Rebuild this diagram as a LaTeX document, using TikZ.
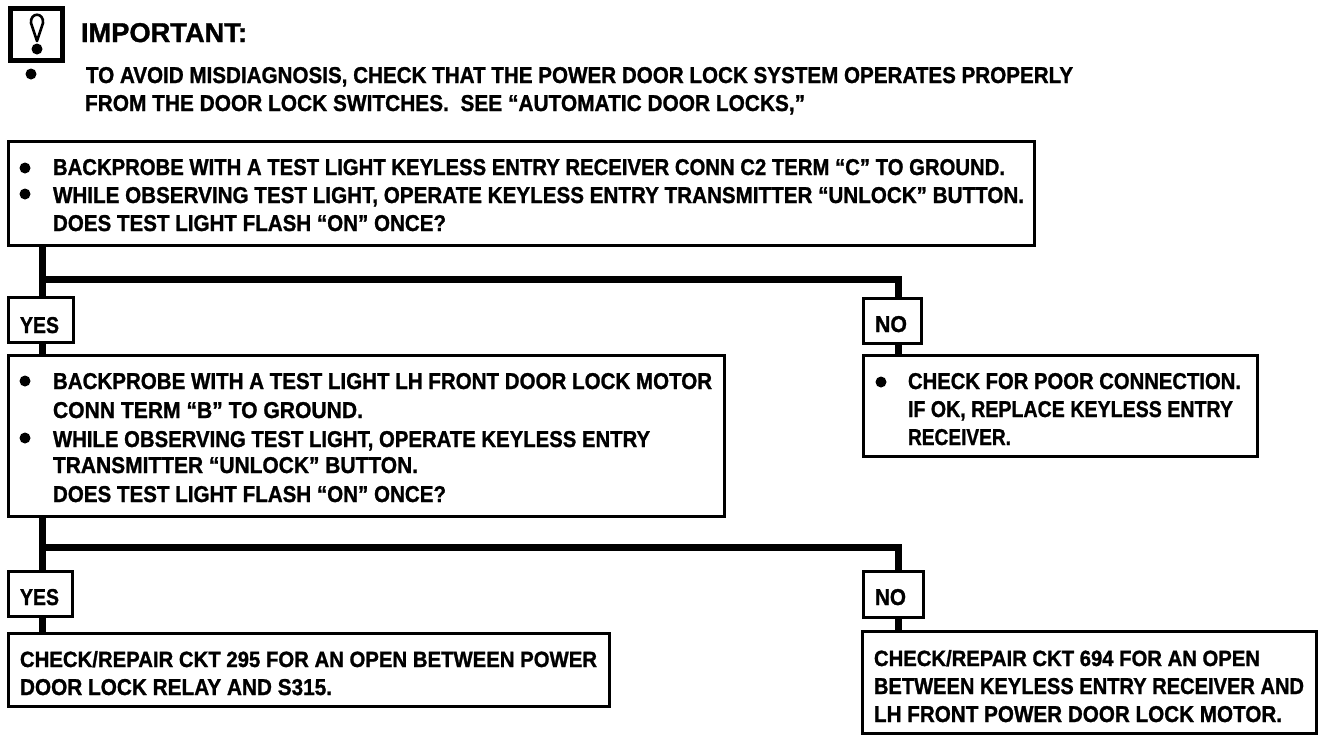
\documentclass[tikz,border=0pt]{standalone}
\usepackage{graphicx}
\usepackage{fontspec}
\setmainfont[BoldFeatures={FakeBold=1.2}]{Liberation Sans}
\tikzset{
  x=1pt,y=-1pt,
  box/.style={draw=black,line width=3pt,fill=white,anchor=north west,inner sep=0pt,outer sep=0pt},
  conn/.style={draw=black,line width=7pt},
  txt/.style={anchor=base west,inner sep=0pt,outer sep=0pt,font=\bfseries},
  bul/.style={circle,fill=black,inner sep=0pt,minimum size=11pt},
}
% name, x-left, x-right, baseline, cap height, text
\newcommand\lineat[6]{\node[txt] (#1) at (#2,#4) {\resizebox{\dimexpr#3pt-#2pt\relax}{#5pt}{#6}};}
% name, x0, y0, x1, y1
\newcommand\boxat[5]{\node[box,minimum width=\dimexpr#4pt-#2pt\relax,minimum height=\dimexpr#5pt-#3pt\relax] (#1) at (#2,#3) {};}
\begin{document}
\begin{tikzpicture}
\useasboundingbox (0,0) rectangle (1328,740);
\fill[white] (0,0) rectangle (1328,740);
% connector junctions
\coordinate (ja) at (42,279);
\coordinate (ka) at (898,279);
\coordinate (jb) at (42,547);
\coordinate (kb) at (898,547);
% boxes
\boxat{warn}{10}{8}{62}{60}
\boxat{q1}{8}{141}{1034}{245}
\boxat{yes1}{8}{297}{73}{342}
\boxat{no1}{863}{298}{921}{343}
\boxat{q2}{8}{355}{724}{516}
\boxat{act1}{863}{355}{1257}{456}
\boxat{yes2}{8}{571}{72}{616}
\boxat{no2}{863}{571}{923}{617}
\boxat{act2}{8}{633}{609}{706}
\boxat{act3}{862}{631}{1316}{733}
% connectors
\draw[conn] (q1.south -| ja) -- (yes1.north -| ja);
\draw[conn,line join=miter] (ja) -- (ka) -- (no1.north -| ka);
\draw[conn] (yes1.south -| ja) -- (q2.north -| ja);
\draw[conn] (no1.south -| ka) -- (act1.north -| ka);
\draw[conn] (q2.south -| jb) -- (yes2.north -| jb);
\draw[conn,line join=miter] (jb) -- (kb) -- (no2.north -| kb);
\draw[conn] (yes2.south -| jb) -- (act2.north -| jb);
\draw[conn] (no2.south -| kb) -- (act3.north -| kb);
% warning icon
\draw[black,line width=5pt] (warn.north west) rectangle (warn.south east);
\draw[black,line width=2.6pt,line join=round] (37,41) -- (31,23) .. controls (30,12) and (44,12) .. (43,23) -- cycle;
\node[bul] (warndot) at (37,49) {};
% bullets
\node[bul] (b0) at (31,74) {};
\node[bul] (b1) at (25,168) {};
\node[bul] (b2) at (25,194) {};
\node[bul] (b3) at (25,381) {};
\node[bul] (b4) at (25,438) {};
\node[bul] (b5) at (881,382) {};
% text
\lineat{imp}{81}{247}{42}{19}{IMPORTANT:}
\lineat{n1}{86}{1073}{83}{16}{TO AVOID MISDIAGNOSIS, CHECK THAT THE POWER DOOR LOCK SYSTEM OPERATES PROPERLY}
\lineat{n2}{85}{805}{111}{16}{FROM THE DOOR LOCK SWITCHES.\ \ SEE “AUTOMATIC DOOR LOCKS,”}
\lineat{q1a}{53}{1005}{175}{16}{BACKPROBE WITH A TEST LIGHT KEYLESS ENTRY RECEIVER CONN C2 TERM “C” TO GROUND.}
\lineat{q1b}{53}{1024}{203}{16}{WHILE OBSERVING TEST LIGHT, OPERATE KEYLESS ENTRY TRANSMITTER “UNLOCK” BUTTON.}
\lineat{q1c}{53}{446}{231}{16}{DOES TEST LIGHT FLASH “ON” ONCE?}
\lineat{y1}{20}{59}{333}{16}{YES}
\lineat{m1}{875}{907}{332}{16}{NO}
\lineat{q2a}{53}{712}{389}{16}{BACKPROBE WITH A TEST LIGHT LH FRONT DOOR LOCK MOTOR}
\lineat{q2b}{53}{363}{418}{16}{CONN TERM “B” TO GROUND.}
\lineat{q2c}{53}{650}{447}{16}{WHILE OBSERVING TEST LIGHT, OPERATE KEYLESS ENTRY}
\lineat{q2d}{53}{418}{473}{16}{TRANSMITTER “UNLOCK” BUTTON.}
\lineat{q2e}{53}{446}{502}{16}{DOES TEST LIGHT FLASH “ON” ONCE?}
\lineat{a1a}{908}{1241}{389}{16}{CHECK FOR POOR CONNECTION.}
\lineat{a1b}{908}{1233}{417}{16}{IF OK, REPLACE KEYLESS ENTRY}
\lineat{a1c}{908}{1011}{445}{16}{RECEIVER.}
\lineat{y2}{20}{59}{605}{16}{YES}
\lineat{m2}{875}{906}{605}{16}{NO}
\lineat{a2a}{20}{597}{667}{16}{CHECK/REPAIR CKT 295 FOR AN OPEN BETWEEN POWER}
\lineat{a2b}{20}{332}{695}{16}{DOOR LOCK RELAY AND S315.}
\lineat{a3a}{874}{1260}{666}{16}{CHECK/REPAIR CKT 694 FOR AN OPEN}
\lineat{a3b}{874}{1304}{694}{16}{BETWEEN KEYLESS ENTRY RECEIVER AND}
\lineat{a3c}{874}{1282}{722}{16}{LH FRONT POWER DOOR LOCK MOTOR.}
\end{tikzpicture}
\end{document}
